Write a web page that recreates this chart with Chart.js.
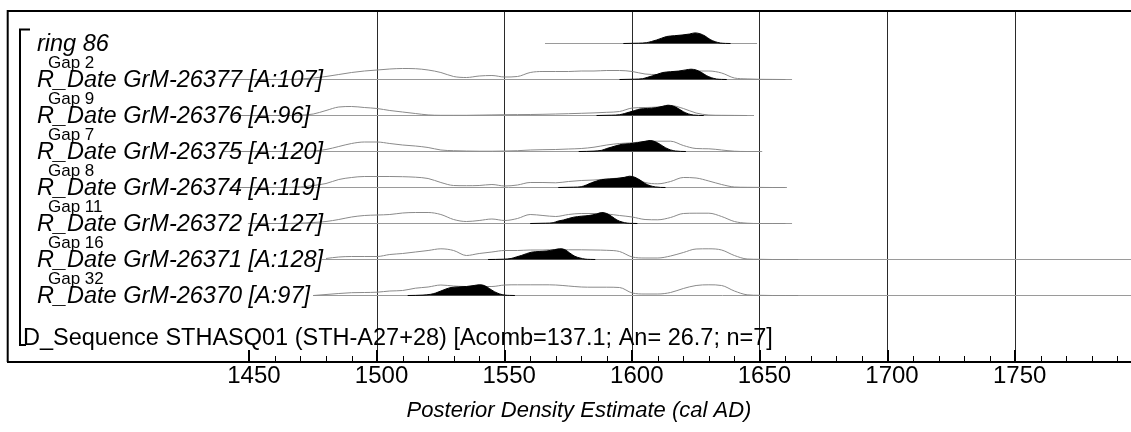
<!DOCTYPE html>
<html>
<head>
<meta charset="utf-8">
<script src="https://cdn.jsdelivr.net/npm/chart.js@4/dist/chart.umd.min.js"></script>
<style>
  html, body { margin: 0; padding: 0; background: #fff; }
  canvas { display: block; }
</style>
</head>
<body>
<canvas id="chart" width="1131" height="432"></canvas>
<script>
// ===== Data =====
const ROW_LABELS = [
  'ring 86',
  'R_Date GrM-26377 [A:107]',
  'R_Date GrM-26376 [A:96]',
  'R_Date GrM-26375 [A:120]',
  'R_Date GrM-26374 [A:119]',
  'R_Date GrM-26372 [A:127]',
  'R_Date GrM-26371 [A:128]',
  'R_Date GrM-26370 [A:97]'
];
const GAP_LABELS = [null, 'Gap 2', 'Gap 9', 'Gap 7', 'Gap 8', 'Gap 11', 'Gap 16', 'Gap 32'];
const SEQUENCE_LABEL = 'D_Sequence STHASQ01 (STH-A27+28) [Acomb=137.1; An= 26.7; n=7]';
const AXIS_TITLE = 'Posterior Density Estimate (cal AD)';

const TICK_YEARS = [1450, 1460, 1470, 1480, 1490, 1500, 1510, 1520, 1530, 1540, 1550, 1560,
  1570, 1580, 1590, 1600, 1610, 1620, 1630, 1640, 1650, 1660, 1670, 1680, 1690, 1700,
  1710, 1720, 1730, 1740, 1750, 1760, 1770, 1780, 1790];
const LABEL_YEARS = [1450, 1500, 1550, 1600, 1650, 1700, 1750];
const GRID_YEARS = [1500, 1550, 1600, 1650, 1700, 1750];

// range of each distribution (cal AD)
const RANGE_START = [1565.8, 1438.5, 1442.4, 1439.7, 1442.4, 1449.4, 1478.4, 1474.9];
const RANGE_END = [1648.9, 1662.6, 1647.7, 1650.9, 1660.6, 1662.6, 1800, 1800];

// unmodelled (likelihood) densities, relative units
const PRIOR_YEARS = [1440, 1445, 1450, 1455, 1460, 1465, 1470, 1475, 1480, 1485, 1490, 1495,
  1500, 1505, 1510, 1515, 1520, 1525, 1530, 1535, 1540, 1545, 1550, 1555, 1560, 1565, 1570,
  1575, 1580, 1585, 1590, 1595, 1600, 1605, 1610, 1615, 1620, 1625, 1630, 1635, 1640, 1645,
  1650, 1655, 1660, 1665];
const prior26377 = [0, 0, 0, 0, 0, 0, 0.5, 1.5, 3, 5, 7, 8.5, 9.5, 10.5, 11, 10.8, 9.5, 7, 3, 2,
  3.5, 4, 2.5, 3, 7, 8, 8, 8, 8.5, 8.5, 9, 9, 8, 5.5, 5, 6.5, 8, 8.5, 8.5, 6.5, 1.5, 0.6, 0.2,
  0.1, 0, null];
const prior26376 = [null, 0, 0, 0, 0, 0, 0.3, 1.5, 5, 8.5, 9, 8, 7, 5, 3.5, 2, 0.6, 0.2, 0.2,
  0.2, 0.4, 0.6, 0.8, 0.9, 1, 1.2, 1.5, 1.8, 2.2, 2.6, 3.2, 4, 7.5, 8, 8.5, 10, 7, 2.5, 0.5,
  0.2, 0.1, 0, null, null, null, null];
const prior26375 = [0, 0, 0, 0, 0, 0, 0, 0.5, 2, 5, 8, 9.5, 9.5, 8, 6.5, 5.5, 4, 1.5, 0.8, 0.5,
  0.3, 0.3, 0.5, 0.8, 1.5, 1.8, 2, 2.5, 3, 4.3, 6.5, 8, 8.7, 10, 10.3, 10.3, 6, 3, 2.7, 1.5,
  0.3, 0, 0, null, null, null];
const prior26374 = [null, 0, 0, 0, 0, 0, 0.5, 2, 4, 8, 10, 11, 11, 11, 10.8, 10.3, 9, 5, 2, 1.8,
  2, 3, 1.5, 2.5, 5, 5, 4.7, 6, 7, 7.5, 8.5, 9.5, 10, 5, 3.7, 6, 10, 9.5, 6.5, 3, 0.5, 0.2,
  0.1, 0, 0, null];
const prior26372 = [null, null, 0, 0, 0, 0, 0.3, 1, 2, 4, 6.5, 8, 8.5, 9, 10.5, 11, 11, 9, 4, 2,
  3, 4.5, 3, 5, 9, 8, 7, 9, 10, 10, 9.5, 8, 6.5, 4, 3.7, 6, 10, 10.3, 10.3, 7, 2, 0.3, 0, 0,
  0, null];
const prior26371 = [null, null, null, null, null, null, null, null, 1, 2.5, 3, 3, 3, 5, 6, 7.5,
  9, 10.7, 9, 4, 6, 7.5, 9, 9, 9.5, 9.5, 10, 9.7, 9.7, 9.5, 9.2, 8, 2.5, 1.5, 1.5, 3.5, 7,
  10.5, 10.7, 9.5, 4, 0.5, 0.2, 0, 0, 0];
const prior26370 = [null, null, null, null, null, null, null, 0, 1, 2, 2.8, 3, 3.3, 4.5, 5, 7.3,
  8.5, 10.5, 9.5, 9, 9, 9, 10.5, 10.7, 10.7, 10.7, 10.5, 9.5, 8.5, 8.3, 8.3, 8, 2.5, 1.5, 1.5,
  3, 7, 10, 10.7, 10, 4.5, 0.7, 0.2, 0, 0, 0];
const PRIORS = [null, prior26377, prior26376, prior26375, prior26374, prior26372, prior26371, prior26370];

// modelled (posterior) densities, [cal AD, relative density]
const post86 = [[1596.5, 0], [1602.5, 0.3], [1605.5, 0.8], [1607.5, 2], [1609.5, 3.5], [1611.5, 5.3],
  [1613.5, 7], [1616.5, 7.8], [1619.5, 8.5], [1622.5, 9.5], [1624.5, 10.6], [1626.5, 9.8],
  [1628.5, 7.5], [1630.5, 4], [1632.5, 1.8], [1634.5, 0.5], [1636.5, 0.1], [1638.5, 0]];
const post26377 = [[1595, 0], [1601, 0.3], [1604, 0.8], [1606, 2.2], [1608, 3.8], [1610, 5.4],
  [1612, 7], [1615, 7.8], [1618, 8.4], [1621, 9.6], [1623, 10.3], [1625, 9.5], [1627, 7.2],
  [1629, 4], [1631, 1.8], [1633, 0.5], [1635, 0.1], [1637, 0]];
const post26376 = [[1586, 0], [1592, 0.3], [1595, 0.8], [1597, 2], [1599, 3.5], [1601, 5],
  [1603, 6.5], [1606, 7], [1609, 7.7], [1612, 9.2], [1614, 10.3], [1616, 9.4], [1618, 7],
  [1620, 3.8], [1622, 1.6], [1624, 0.5], [1626, 0.1], [1628, 0]];
const post26375 = [[1579, 0], [1585, 0.4], [1588, 1.2], [1590, 3], [1592, 4.5], [1594, 6],
  [1596, 7.2], [1599, 7.8], [1602, 8.8], [1605, 10.2], [1607, 11], [1609, 9.8], [1611, 7],
  [1613, 3.8], [1615, 1.6], [1617, 0.5], [1619, 0.1], [1621, 0]];
const post26374 = [[1571, 0], [1577, 0.3], [1580, 0.8], [1582, 2.5], [1584, 4.7], [1586, 6.5],
  [1588, 7.8], [1591, 8.5], [1594, 9], [1597, 10.2], [1599, 11.3], [1601, 10.2], [1603, 7.5],
  [1605, 4], [1607, 1.8], [1609, 0.6], [1611, 0.1], [1613, 0]];
const post26372 = [[1560, 0], [1566, 0.3], [1569, 0.8], [1571, 2.5], [1573, 3.5], [1575, 5],
  [1577, 6.3], [1580, 7.3], [1583, 8], [1586, 9.5], [1588, 11], [1590, 10], [1592, 7],
  [1594, 3.5], [1596, 1.5], [1598, 0.4], [1600, 0.1], [1602, 0]];
const post26371 = [[1543.5, 0], [1549.5, 0.3], [1552.5, 1], [1554.5, 2.5], [1556.5, 4], [1558.5, 5.8],
  [1560.5, 7.3], [1563.5, 8], [1566.5, 8.5], [1569.5, 9.8], [1571.5, 10.7], [1573.5, 10],
  [1575.5, 6.5], [1577.5, 3.2], [1579.5, 1.5], [1581.5, 0.4], [1583.5, 0.1], [1585.5, 0]];
const post26370 = [[1512, 0], [1518, 0.4], [1521, 1.2], [1523, 2.5], [1525, 4.5], [1527, 6.5],
  [1529, 8], [1532, 8.6], [1535, 9], [1538, 10], [1540, 10.7], [1542, 10], [1544, 7],
  [1546, 3.8], [1548, 1.6], [1550, 0.4], [1552, 0.1], [1554, 0]];
const POSTERIORS = [post86, post26377, post26376, post26375, post26374, post26372, post26371, post26370];

// ===== Layout / style =====
const FONT = "'Liberation Sans', Arial, Helvetica, sans-serif";
const DENSITY_SCALE = 1 / 36;   // one row = 36 density units
const X_MIN = 1355.4;
const X_MAX = 1795.4;

// ===== Build datasets =====
const datasets = [];

POSTERIORS.forEach((post, i) => {
  datasets.push({
    data: post.map(([yr, d]) => ({ x: yr, y: i - d * DENSITY_SCALE })),
    borderColor: '#000',
    backgroundColor: '#000',
    borderWidth: 1,
    fill: { value: i },
    cubicInterpolationMode: 'monotone',
    order: 0
  });
});

PRIORS.forEach((prior, i) => {
  if (!prior) return;
  const pts = [];
  PRIOR_YEARS.forEach((yr, k) => {
    if (prior[k] !== null) pts.push({ x: yr, y: i - prior[k] * DENSITY_SCALE });
  });
  datasets.push({
    data: pts,
    borderColor: '#8a8a8a',
    borderWidth: 1,
    fill: false,
    cubicInterpolationMode: 'monotone',
    order: 1
  });
});

ROW_LABELS.forEach((_, i) => {
  datasets.push({
    data: [{ x: RANGE_START[i], y: i }, { x: RANGE_END[i], y: i }],
    borderColor: '#9a9a9a',
    borderWidth: 1,
    fill: false,
    order: 2
  });
});

// ===== Frame, ticks and texts =====
const overlay = {
  id: 'overlay',
  afterDraw(chart) {
    const { ctx, chartArea: area, scales: { x, y } } = chart;
    ctx.save();
    ctx.strokeStyle = '#000';

    // frame
    ctx.lineWidth = 2;
    ctx.beginPath();
    ctx.moveTo(area.left - 0.3, area.bottom);
    ctx.lineTo(area.left - 0.3, area.top);
    ctx.lineTo(area.right, area.top);
    ctx.stroke();

    // tick marks
    TICK_YEARS.forEach(v => {
      const px = Math.round(x.getPixelForValue(v));
      const major = LABEL_YEARS.includes(v);
      ctx.lineWidth = major ? 2 : 1;
      ctx.beginPath();
      const off = major ? 0 : 0.5;
      ctx.moveTo(px + off, area.bottom);
      ctx.lineTo(px + off, area.bottom - (major ? 12 : 6));
      ctx.stroke();
    });

    // sequence bracket
    const top = y.getPixelForValue(0) - 14;
    const bottom = area.bottom - 17;
    ctx.lineWidth = 2;
    ctx.beginPath();
    ctx.moveTo(30, top);
    ctx.lineTo(20, top);
    ctx.lineTo(20, bottom);
    ctx.lineTo(26, bottom);
    ctx.stroke();

    // row labels
    ctx.fillStyle = '#000';
    ctx.textAlign = 'left';
    ctx.textBaseline = 'alphabetic';
    ROW_LABELS.forEach((label, i) => {
      const py = y.getPixelForValue(i);
      ctx.font = 'italic 23.5px ' + FONT;
      ctx.fillText(label, 37, py + 7.5);
      if (GAP_LABELS[i]) {
        ctx.font = '17px ' + FONT;
        ctx.fillText(GAP_LABELS[i], 48, py - 11.5);
      }
    });

    ctx.font = '23.5px ' + FONT;
    ctx.fillText(SEQUENCE_LABEL, 23, bottom);

    // axis title
    ctx.font = 'italic 22px ' + FONT;
    ctx.textAlign = 'center';
    ctx.textBaseline = 'middle';
    ctx.fillText(AXIS_TITLE, 579, 411);
    ctx.restore();
  }
};

new Chart(document.getElementById('chart'), {
  type: 'scatter',
  data: { datasets },
  options: {
    responsive: false,
    animation: false,
    devicePixelRatio: 1,
    showLine: true,
    layout: { padding: { left: 8, top: 11, right: 0, bottom: 41.2 } },
    elements: { point: { radius: 0, hoverRadius: 0 } },
    plugins: { legend: { display: false }, tooltip: { enabled: false } },
    scales: {
      x: {
        type: 'linear',
        min: X_MIN,
        max: X_MAX,
        afterBuildTicks: scale => { scale.ticks = TICK_YEARS.map(v => ({ value: v })); },
        grid: {
          drawTicks: false,
          lineWidth: 1,
          color: ctx => (ctx.tick && GRID_YEARS.includes(ctx.tick.value)) ? '#2a2a2a' : 'rgba(0,0,0,0)'
        },
        border: { display: true, color: '#000', width: 2 },
        ticks: {
          autoSkip: false,
          maxRotation: 0,
          minRotation: 0,
          padding: 0,
          labelOffset: 4.5,
          color: '#000',
          font: { family: FONT, size: 24 },
          callback: v => LABEL_YEARS.includes(v) ? String(v) : ''
        }
      },
      y: {
        type: 'linear',
        display: false,
        reverse: true,
        min: -32.5 / 36,
        max: -32.5 / 36 + 351 / 36
      }
    }
  },
  plugins: [overlay]
});
</script>
</body>
</html>
